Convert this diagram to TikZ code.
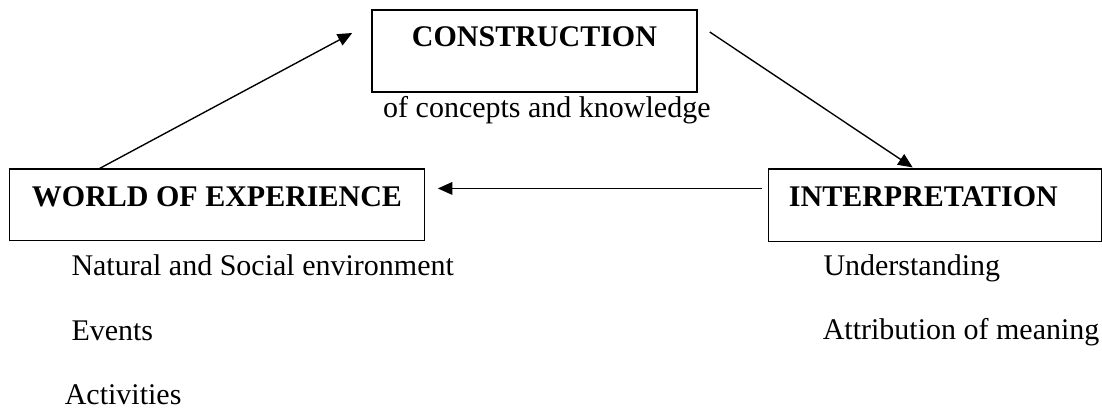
\documentclass[tikz,border=0pt,12pt]{standalone}
\usepackage{fontspec}
\setmainfont{Liberation Serif}
\usetikzlibrary{arrows.meta,calc}
\tikzset{
	box/.style={draw, line width=0.6pt, font=\bfseries, inner sep=0pt, anchor=base},
	arr/.style={-{Triangle[length=5.8pt,width=5pt]}, line width=0.55pt},
	txt/.style={inner sep=0pt, anchor=base west}
}
\begin{document}
\begin{tikzpicture}[x=0.4pt, y=-0.4pt]
	\useasboundingbox (0,0) rectangle (1102,411);

	\node[box, minimum width=130pt, text height=14.8pt, text depth=18pt]	(cons)	at (534.5,47)	{CONSTRUCTION};
	\node[txt]	(consnote)	at (382.7,118)	{of concepts and knowledge};

	\node[box, minimum width=166.1pt, text height=15pt, text depth=13.6pt]	(world)	at (217,206.7)	{WORLD OF EXPERIENCE};
	\node[txt]	(nature)	at (71,276)	{Natural and Social environment};
	\node[txt]	(events)	at (71,340.7)	{Events};
	\node[txt]	(activ)		at (64.3,405)	{Activities};

	\node[box, anchor=base west, inner xsep=8.2pt, text width=116.9pt, align=left, text height=15pt, text depth=14pt]	(interp)	at (767.7,206.7)	{INTERPRETATION};
	\node[txt]	(underst)	at (823,276)	{Understanding};
	\node[txt]	(attrib)	at (822.3,340)	{Attribution of meaning};

	% the cycle
	\draw[arr] ($(world.north west)+(91,0)$) -- ($(cons.west)+(-19,-18)$);
	\draw[arr] ($(cons.east)+(12,-19)$) -- ($(interp.north west)+(145,-1)$);
	\draw[arr] ($(interp.west)+(-6,-17)$) -- ($(world.east)+(12.4,-16.5)$);
\end{tikzpicture}
\end{document}
